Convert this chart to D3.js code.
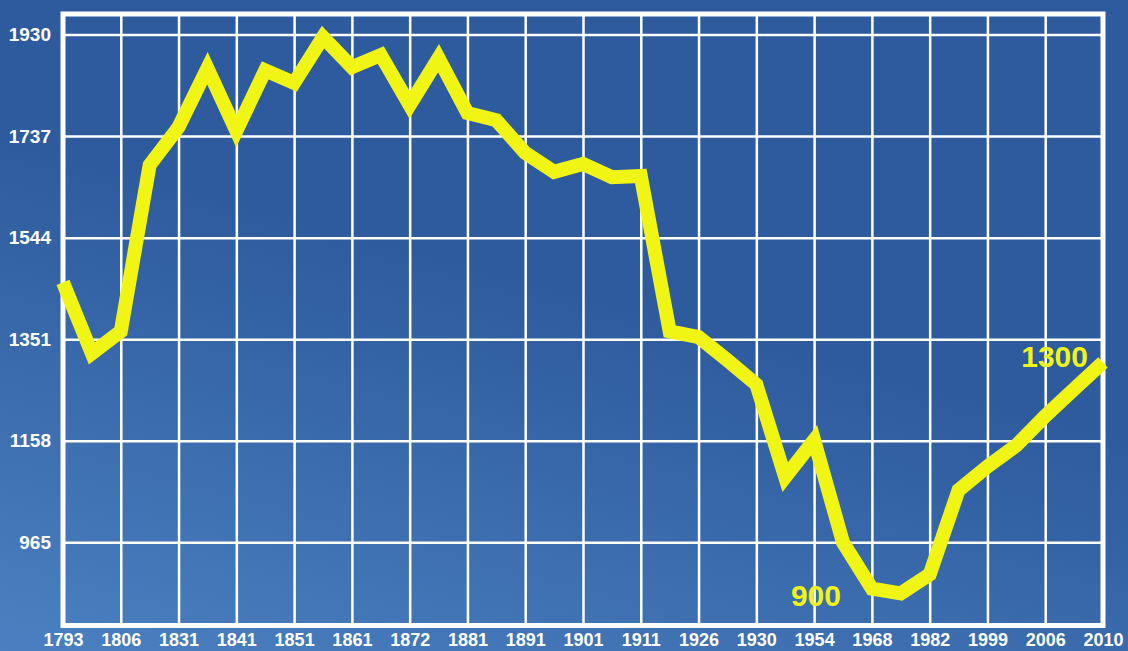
<!DOCTYPE html>
<html>
<head>
<meta charset="utf-8">
<script src="https://cdn.jsdelivr.net/npm/d3@7"></script>
<style>
  html, body { margin: 0; padding: 0; background: #2e5b9d; }
  svg { display: block; }
</style>
</head>
<body>
<svg id="chart"></svg>
<script>
// x labels (one per vertical grid line)
const years = ["1793", "1806", "1831", "1841", "1851", "1861", "1872", "1881", "1891", "1901",
               "1911", "1926", "1930", "1954", "1968", "1982", "1999", "2006", "2010"];
// series values, one every half column
const values = [1459, 1324, 1366, 1682, 1754, 1866, 1747, 1862, 1838, 1925,
                1868, 1891, 1796, 1885, 1781, 1767, 1705, 1669, 1684, 1659,
                1661, 1366, 1355, 1311, 1265, 1089, 1159, 965, 877, 868,
                904, 1064, 1109, 1149, 1205, 1256, 1307];
const yTicks = [965, 1158, 1351, 1544, 1737, 1930];
const notes = [{ text: "900", at: 28, dx: -81, dy: 17 }, { text: "1300", at: 36, dx: -15, dy: 5 }];

const W = 1128, H = 651;
const mLeft = 63, mRight = 1103, mTop = 14, mBottom = 625.5;

const svg = d3.select("#chart").attr("width", W).attr("height", H);

const defs = svg.append("defs");
const grad = defs.append("linearGradient").attr("id", "bg")
    .attr("x1", 0.3).attr("y1", 0.35).attr("x2", 0).attr("y2", 1);
grad.append("stop").attr("offset", "0%").attr("stop-color", "#2e5b9d");
grad.append("stop").attr("offset", "100%").attr("stop-color", "#4a80c1");

svg.append("rect").attr("width", W).attr("height", H).attr("fill", "url(#bg)");

const x = d3.scaleLinear().domain([0, values.length - 1]).range([mLeft, mRight]);
const xLab = d3.scalePoint().domain(years).range([mLeft, mRight]);
const y = d3.scaleLinear().domain([807, 1969]).range([mBottom, mTop]);

// vertical grid + labels
const xAxis = svg.append("g")
    .attr("transform", `translate(0,${mBottom})`)
    .call(d3.axisBottom(xLab).tickSize(-(mBottom - mTop)).tickPadding(10))
xAxis.select(".domain").remove();
xAxis.selectAll("line").attr("stroke", "#fff").attr("stroke-width", 2.5);
xAxis.selectAll("text")
    .attr("fill", "#fff")
    .attr("font-family", "Liberation Sans, Arial, sans-serif")
    .attr("font-weight", "bold")
    .attr("font-size", "18px")
    .attr("dy", "0")
    .attr("y", 20.5);

// horizontal grid + labels
const yAxis = svg.append("g")
    .attr("transform", `translate(${mLeft},0)`)
    .call(d3.axisLeft(y).tickValues(yTicks).tickFormat(d3.format("d")).tickSize(-(mRight - mLeft)).tickPadding(12))
yAxis.select(".domain").remove();
yAxis.selectAll("line").attr("stroke", "#fff").attr("stroke-width", 2.5);
yAxis.selectAll("text")
    .attr("fill", "#fff")
    .attr("font-family", "Liberation Sans, Arial, sans-serif")
    .attr("font-weight", "bold")
    .attr("font-size", "19px");

// frame
svg.append("rect")
    .attr("x", mLeft).attr("y", mTop)
    .attr("width", mRight - mLeft).attr("height", mBottom - mTop)
    .attr("fill", "none").attr("stroke", "#fff").attr("stroke-width", 5);

const lineFun = d3.line()
    .x((d, i) => x(i))
    .y(d => y(d))
    .curve(d3.curveLinear);

svg.append("path")
    .attr("d", lineFun(values))
    .attr("stroke", "#f0f514")
    .attr("stroke-width", 14)
    .attr("stroke-linejoin", "miter")
    .attr("fill", "none");

svg.selectAll("text.note")
    .data(notes)
    .enter()
    .append("text")
    .attr("class", "note")
    .text(d => d.text)
    .attr("x", d => x(d.at) + d.dx)
    .attr("y", d => y(values[d.at]) + d.dy)
    .attr("text-anchor", d => d.at === values.length - 1 ? "end" : "start")
    .attr("font-family", "Liberation Sans, Arial, sans-serif")
    .attr("font-weight", "bold")
    .attr("font-size", "30px")
    .attr("fill", "#f0f514");
</script>
</body>
</html>
